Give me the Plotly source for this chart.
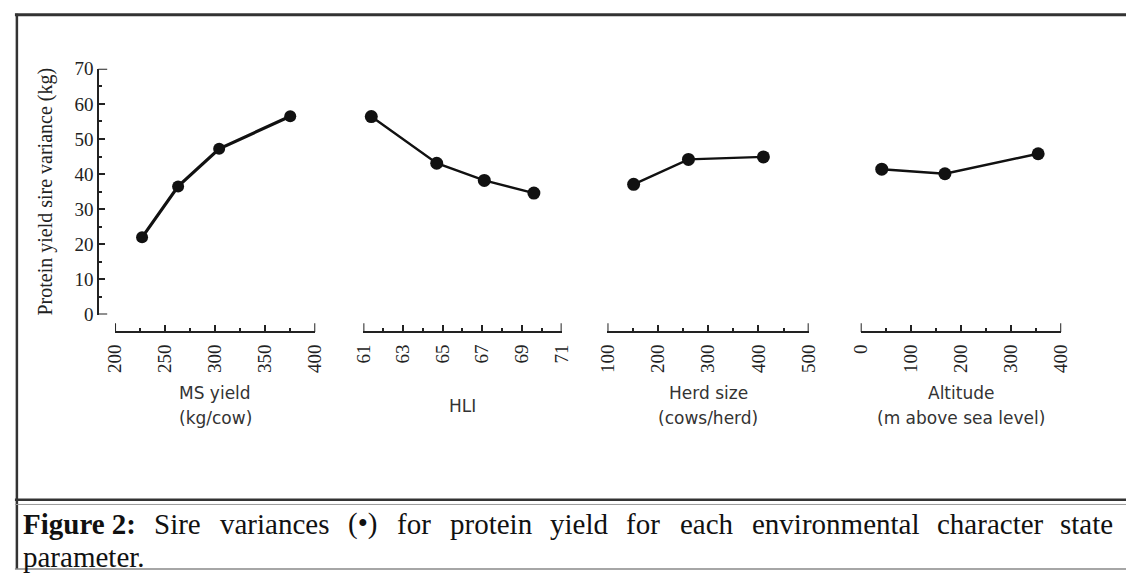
import plotly.graph_objects as go

# ---------------- data ----------------
ms_yield = [227, 263, 304, 375]
ms_var = [22.0, 36.5, 47.2, 56.5]

hli = [61.4, 64.7, 67.1, 69.6]
hli_var = [56.4, 43.1, 38.2, 34.6]

herd_size = [152, 261, 410]
herd_var = [37.1, 44.2, 44.9]

altitude = [42, 168, 354]
alt_var = [41.4, 40.1, 45.8]

y_title = "Protein yield sire variance (kg)"
x_titles = [["MS yield", "(kg/cow)"], ["HLI"], ["Herd size", "(cows/herd)"],
            ["Altitude", "(m above sea level)"]]
caption_line1 = ["<b>Figure 2:</b>", "Sire", "variances", "(•)", "for", "protein", "yield",
                 "for", "each", "environmental", "character", "state"]
caption_line2 = "parameter."

# ---------------- layout helpers ----------------
W, H = 1136, 581
def fx(px):
    return px / W
def fy(py):
    return 1 - py / H

serif = "Liberation Serif"
ink = "#111111"
axc = "#222222"

fig = go.Figure()

panels = [
    (ms_yield, ms_var, "x", 3.2, 12),
    (hli, hli_var, "x2", 2.4, 13),
    (herd_size, herd_var, "x3", 2.4, 13),
    (altitude, alt_var, "x4", 2.4, 13),
]
for xs, ys, xa, lw, ms in panels:
    fig.add_trace(go.Scatter(
        x=xs, y=ys, xaxis=xa, yaxis="y", mode="lines+markers",
        line=dict(color=ink, width=lw),
        marker=dict(color=ink, size=ms, symbol="circle"),
        cliponaxis=False, showlegend=False, hoverinfo="x+y"))

axis_y_px = 334
x_specs = [
    ("xaxis", "x", (106, 310), [200, 400], 200, 50, 25),
    ("xaxis2", "x2", (359, 561), [61, 71], 61, 2, 1),
    ("xaxis3", "x3", (607.7, 812.7), [100, 500], 100, 100, 50),
    ("xaxis4", "x4", (865.7, 1070), [0, 400], 0, 100, 50),
]
layout_axes = {}
shapes = []
for name, ref, (a, b), rng, t0, dt, mdt in x_specs:
    layout_axes[name] = dict(
        domain=[fx(a), fx(b)], range=rng, anchor="free", position=fy(axis_y_px),
        showline=True, linecolor=axc, linewidth=2,
        ticks="inside", ticklen=6, tickwidth=2, tickcolor=axc,
        tick0=t0, dtick=dt,
        minor=dict(ticks="inside", dtick=mdt, tick0=t0, ticklen=3, tickwidth=2, tickcolor=axc),
        tickangle=-90, ticklabelstandoff=4,
        tickfont=dict(family=serif, size=19, color=axc),
        showgrid=False, zeroline=False, fixedrange=True)
    # taller end ticks
    for v in rng:
        shapes.append(dict(type="line", xref=ref, yref="paper", x0=v, x1=v,
                           y0=fy(axis_y_px), y1=fy(axis_y_px - 9),
                           line=dict(color=axc, width=2)))

layout_axes["yaxis"] = dict(
    domain=[fy(316), fy(61)], range=[0, 70], anchor="free", position=fx(89),
    showline=True, linecolor=axc, linewidth=2,
    ticks="inside", ticklen=6, tickwidth=2, tickcolor=axc,
    tick0=0, dtick=10,
    minor=dict(ticks="inside", dtick=5, ticklen=3, tickwidth=2, tickcolor=axc),
    tickfont=dict(family=serif, size=19, color=axc),
    showgrid=False, zeroline=False, fixedrange=True)
for v in (0, 70):
    shapes.append(dict(type="line", xref="paper", yref="y", x0=fx(89), x1=fx(98),
                       y0=v, y1=v, line=dict(color=axc, width=2)))

annotations = []
# y-axis title
annotations.append(dict(text=y_title, x=fx(35), y=fy(188), xref="paper", yref="paper",
                        textangle=-90, showarrow=False, xanchor="center", yanchor="middle",
                        font=dict(family=serif, size=20, color=axc)))
# x-axis titles
centers = [(106 + 310) / 2, (359 + 561) / 2, (607.7 + 812.7) / 2, (865.7 + 1070) / 2]
for cx, lines in zip(centers, x_titles):
    ys = [411] if len(lines) == 1 else [397, 423]
    for txt, yy in zip(lines, ys):
        annotations.append(dict(text=txt, x=fx(cx), y=fy(yy), xref="paper", yref="paper",
                                showarrow=False, xanchor="center", yanchor="middle",
                                font=dict(family="DejaVu Sans", size=17, color="#333")))
# caption (justified by placing each word)
word_x = [10, 144, 211, 341, 391, 445, 547, 625, 680, 753, 941, 1067]
for wd, xx in zip(caption_line1, word_x):
    annotations.append(dict(text=wd, x=fx(xx), y=fy(533), xref="paper", yref="paper",
                            showarrow=False, xanchor="left", yanchor="middle",
                            font=dict(family=serif, size=29, color=ink)))
annotations.append(dict(text=caption_line2, x=fx(10), y=fy(567), xref="paper", yref="paper",
                        showarrow=False, xanchor="left", yanchor="middle",
                        font=dict(family=serif, size=29, color=ink)))

# frame lines
shapes += [
    dict(type="line", xref="paper", yref="paper", x0=fx(4), x1=1, y0=fy(5), y1=fy(5),
         line=dict(color="#333", width=3)),
    dict(type="line", xref="paper", yref="paper", x0=fx(6), x1=fx(6), y0=fy(4), y1=fy(580),
         line=dict(color="#333", width=2.5)),
    dict(type="line", xref="paper", yref="paper", x0=fx(4), x1=1, y0=fy(508), y1=fy(508),
         line=dict(color="#333", width=2.5)),
    dict(type="line", xref="paper", yref="paper", x0=fx(4), x1=1, y0=fy(513), y1=fy(513),
         line=dict(color="#999", width=1)),
    dict(type="line", xref="paper", yref="paper", x0=fx(4), x1=1, y0=fy(580), y1=fy(580),
         line=dict(color="#888", width=1.5)),
]

fig.update_layout(
    width=W, height=H, autosize=False,
    margin=dict(l=0, r=0, t=0, b=0, pad=0),
    paper_bgcolor="white", plot_bgcolor="white",
    annotations=annotations, shapes=shapes, showlegend=False,
    **layout_axes)

fig.write_html("out.html", config={"displayModeBar": False})
